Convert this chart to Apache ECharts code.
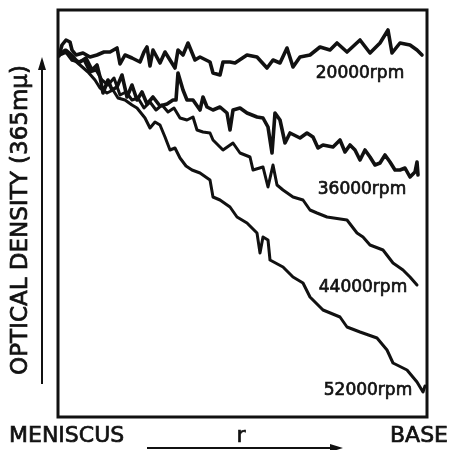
<!DOCTYPE html>
<html>
<head>
<meta charset="utf-8">
<script src="https://cdn.jsdelivr.net/npm/echarts@6/dist/echarts.min.js"></script>
<style>
  html, body { margin: 0; padding: 0; background: #fff; }
  #chart { width: 451px; height: 450px; }
</style>
</head>
<body>
<div id="chart"></div>
<script>
// r (meniscus = 0 .. base = 36.9), optical density in arbitrary units
const rpm20000 = [
  [0.1, 3.61], [0.4, 3.72], [0.8, 3.77], [1.2, 3.75], [1.4, 3.67], [1.8, 3.62], [2.5, 3.64],
  [3.2, 3.60], [3.9, 3.62], [4.6, 3.65], [5.2, 3.65], [5.9, 3.69], [6.2, 3.53], [6.7, 3.62],
  [7.4, 3.59], [8.2, 3.55], [8.6, 3.65], [8.9, 3.70], [9.2, 3.51], [9.5, 3.67], [10.2, 3.54],
  [10.7, 3.65], [11.2, 3.57], [11.7, 3.49], [12.0, 3.67], [12.5, 3.62], [13.0, 3.74], [13.7, 3.57],
  [14.2, 3.60], [15.2, 3.55], [15.5, 3.44], [16.2, 3.42], [16.5, 3.55], [17.2, 3.55], [17.7, 3.54],
  [18.9, 3.62], [19.9, 3.60], [20.9, 3.49], [21.5, 3.57], [22.2, 3.54], [22.9, 3.69], [23.5, 3.50],
  [24.2, 3.60], [25.2, 3.62], [26.2, 3.70], [27.2, 3.67], [27.9, 3.74], [28.9, 3.65], [30.2, 3.77],
  [31.2, 3.64], [32.2, 3.74], [33.0, 3.87], [33.4, 3.64], [34.2, 3.74], [35.2, 3.72], [35.9, 3.67],
  [36.4, 3.62]
];
const rpm36000 = [
  [0.1, 3.62], [0.8, 3.65], [1.4, 3.57], [2.2, 3.55], [2.8, 3.59], [3.4, 3.47], [3.9, 3.52],
  [4.2, 3.40], [4.5, 3.24], [5.0, 3.37], [5.4, 3.27], [5.9, 3.30], [6.4, 3.42], [6.9, 3.20],
  [7.4, 3.32], [7.9, 3.17], [8.4, 3.25], [8.9, 3.13], [9.5, 3.20], [10.2, 3.11], [10.9, 3.13],
  [11.5, 3.17], [11.8, 3.17], [12.0, 3.44], [12.5, 3.27], [12.9, 3.17], [13.5, 3.17], [14.2, 3.07],
  [14.5, 3.20], [14.9, 3.10], [15.5, 3.07], [16.2, 3.10], [16.9, 3.04], [17.2, 2.87], [17.5, 3.07],
  [18.2, 3.09], [18.9, 3.04], [19.9, 3.00], [20.5, 2.99], [21.0, 2.90], [21.4, 2.64], [21.7, 3.04],
  [22.2, 2.97], [22.7, 2.74], [23.2, 2.84], [24.2, 2.79], [24.9, 2.84], [25.5, 2.80], [26.0, 2.69],
  [26.5, 2.72], [27.5, 2.70], [28.2, 2.77], [28.7, 2.65], [29.2, 2.72], [29.7, 2.67], [30.2, 2.57],
  [30.7, 2.67], [31.2, 2.60], [31.7, 2.52], [32.2, 2.54], [32.7, 2.62], [33.2, 2.55], [33.7, 2.47],
  [34.2, 2.47], [34.7, 2.49], [35.2, 2.40], [35.7, 2.45], [35.9, 2.55], [36.0, 2.42]
];
const rpm44000 = [
  [0.1, 3.62], [0.8, 3.67], [1.4, 3.62], [2.0, 3.55], [2.6, 3.57], [3.2, 3.45], [3.8, 3.47],
  [4.4, 3.37], [5.0, 3.32], [5.6, 3.39], [6.2, 3.22], [6.8, 3.25], [7.4, 3.17], [8.0, 3.19],
  [8.6, 3.09], [9.2, 3.15], [9.8, 3.07], [10.4, 3.12], [11.0, 3.05], [11.6, 3.09], [12.2, 2.99],
  [12.9, 2.97], [13.5, 3.00], [13.9, 2.87], [14.5, 2.85], [15.2, 2.84], [15.5, 2.77], [16.5, 2.67],
  [17.5, 2.74], [18.2, 2.64], [19.2, 2.60], [19.5, 2.47], [20.5, 2.50], [21.0, 2.30], [21.5, 2.52],
  [21.9, 2.32], [22.5, 2.27], [23.5, 2.20], [24.5, 2.17], [25.2, 2.07], [25.9, 2.04], [26.9, 2.00],
  [28.9, 1.97], [29.9, 1.84], [30.5, 1.80], [31.2, 1.72], [32.5, 1.67], [33.5, 1.54], [34.5, 1.47],
  [35.2, 1.40], [35.9, 1.32]
];
const rpm52000 = [
  [0.1, 3.62], [0.7, 3.67], [1.4, 3.59], [2.2, 3.52], [3.0, 3.45], [3.7, 3.37], [4.2, 3.29],
  [4.9, 3.24], [5.5, 3.27], [6.0, 3.19], [6.7, 3.17], [7.4, 3.12], [7.9, 3.09], [8.7, 2.99],
  [9.2, 2.89], [9.7, 2.95], [10.2, 2.92], [10.7, 2.80], [11.2, 2.67], [11.7, 2.69], [12.2, 2.59],
  [12.8, 2.51], [13.4, 2.47], [14.2, 2.44], [15.2, 2.37], [15.5, 2.20], [16.2, 2.17], [17.2, 2.10],
  [17.9, 2.00], [18.9, 1.94], [19.9, 1.84], [20.2, 1.64], [20.5, 1.80], [21.0, 1.77], [21.2, 1.57],
  [22.5, 1.50], [23.5, 1.40], [24.5, 1.34], [25.2, 1.20], [26.5, 1.07], [28.2, 1.00], [28.9, 0.90],
  [30.2, 0.85], [31.9, 0.79], [32.9, 0.67], [33.5, 0.54], [34.9, 0.47], [35.9, 0.35], [36.5, 0.25],
  [36.7, 0.31]
];
const curveNames = ["20000rpm", "36000rpm", "44000rpm", "52000rpm"];

const ink = "#111";
const font = "DejaVu Sans";

const lineSeries = (name, data, width) => ({
  name: name,
  type: "line",
  data: data,
  showSymbol: false,
  symbol: "none",
  lineStyle: { color: ink, width: width, join: "round", cap: "round" },
  silent: true,
});

const label = (text, x, y, size, align) => ({
  type: "text",
  x: x,
  y: y,
  style: {
    text: text,
    font: "normal " + size + "px '" + font + "'",
    fill: ink,
    stroke: ink,
    lineWidth: 0.7,
    textAlign: align || "center",
    textVerticalAlign: "middle",
  },
});

const chart = echarts.init(document.getElementById("chart"));
chart.setOption({
  animation: false,
  backgroundColor: "#fff",
  grid: {
    show: true,
    left: 58,
    right: 24,
    top: 10,
    bottom: 33,
    borderColor: ink,
    borderWidth: 3,
  },
  xAxis: {
    type: "value",
    min: 0,
    max: 36.9,
    axisLine: { show: false },
    axisTick: { show: false },
    axisLabel: { show: false },
    splitLine: { show: false },
  },
  yAxis: {
    type: "value",
    min: 0,
    max: 4.07,
    axisLine: { show: false },
    axisTick: { show: false },
    axisLabel: { show: false },
    splitLine: { show: false },
  },
  series: [
    lineSeries(curveNames[0], rpm20000, 3.6),
    lineSeries(curveNames[1], rpm36000, 3.6),
    lineSeries(curveNames[2], rpm44000, 3),
    lineSeries(curveNames[3], rpm52000, 3),
  ],
  graphic: [
    //曲线标注
    label(curveNames[0], 360, 74, 17),
    label(curveNames[1], 362, 190, 17),
    label(curveNames[2], 363, 288, 17),
    label(curveNames[3], 368, 391, 17),
    //底部标注
    label("MENISCUS", 9, 436, 22, "left"),
    label("r", 241, 436, 22),
    label("BASE", 448, 436, 22, "right"),
    //纵轴标注
    Object.assign(label("OPTICAL DENSITY (365mμ)", 21, 220, 23), { rotation: Math.PI / 2 }),
    //箭头
    {
      type: "line",
      shape: { x1: 42, y1: 384, x2: 42, y2: 66 },
      style: { stroke: ink, lineWidth: 2 },
    },
    {
      type: "polygon",
      shape: { points: [[42, 57], [38, 70], [46, 70]] },
      style: { fill: ink },
    },
    {
      type: "line",
      shape: { x1: 147, y1: 448, x2: 332, y2: 448 },
      style: { stroke: ink, lineWidth: 2 },
    },
    {
      type: "polygon",
      shape: { points: [[343, 448], [330, 444], [330, 452]] },
      style: { fill: ink },
    },
  ],
});
</script>
</body>
</html>
